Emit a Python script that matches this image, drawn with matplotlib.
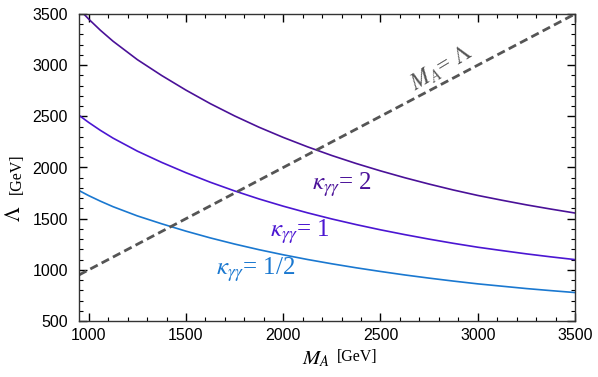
import matplotlib
matplotlib.use("Agg")
import matplotlib.pyplot as plt
from matplotlib.ticker import MultipleLocator

# values
m_a = [950, 1000, 1060, 1125, 1250, 1375, 1500, 1625, 1750, 1875, 2000, 2125,
       2250, 2375, 2500, 2625, 2750, 2875, 3000, 3125, 3250, 3375, 3500]
lam_k2 = [3549, 3450, 3341, 3234, 3054, 2899, 2756, 2624, 2504, 2394, 2294, 2202,
          2117, 2039, 1967, 1900, 1838, 1780, 1727, 1680, 1635, 1594, 1555]
lam_k1 = [2510, 2440, 2363, 2287, 2160, 2050, 1949, 1856, 1771, 1693, 1622, 1557,
          1497, 1442, 1391, 1344, 1300, 1259, 1221, 1188, 1156, 1127, 1100]
lam_khalf = [1775, 1725, 1671, 1617, 1527, 1450, 1378, 1312, 1252, 1197, 1147, 1101,
             1059, 1020, 984, 950, 919, 890, 863, 840, 817, 797, 778]
diag = [950, 3500]

plt.rcParams['mathtext.fontset'] = 'stix'
plt.rcParams['font.family'] = 'Liberation Sans'

W, H = 598, 377
fig = plt.figure(figsize=(W / 100, H / 100), dpi=100)
ax = fig.add_axes([79 / W, 1 - 321 / H, 496 / W, 307 / H])

c2 = '#4a1198'
c1 = '#4b16d2'
ch = '#1a78d0'
grey = '#555555'

ax.plot(m_a, lam_k2, color=c2, lw=1.2)
ax.plot(m_a, lam_k1, color=c1, lw=1.2)
ax.plot(m_a, lam_khalf, color=ch, lw=1.2)
ax.plot(diag, diag, color=grey, lw=2.0, dashes=(3, 1.6))

ax.set_xlim(950, 3500)
ax.set_ylim(500, 3500)
ax.xaxis.set_major_locator(MultipleLocator(500))
ax.xaxis.set_minor_locator(MultipleLocator(100))
ax.yaxis.set_major_locator(MultipleLocator(500))
ax.yaxis.set_minor_locator(MultipleLocator(100))
ax.tick_params(which='both', direction='in', top=True, right=True, labelsize=11.5)
ax.tick_params(axis='x', pad=5)
ax.tick_params(axis='y', pad=8)
ax.tick_params(which='major', length=6, width=1.0)
ax.tick_params(which='minor', length=3, width=0.8)
for s in ax.spines.values():
    s.set_color('#333333')
    s.set_linewidth(1.0)

# axis labels, big symbol + small unit
fig.text(316 / W, 1 - 359 / H, r'$M_A$', fontsize=15, ha='center', va='center')
fig.text(357 / W, 1 - 357 / H, '[GeV]', family='Liberation Serif', fontsize=11.5,
         ha='center', va='center')
fig.text(15 / W, 1 - 214 / H, r'$\Lambda$', fontsize=15, ha='center', va='center',
         rotation=90)
fig.text(17 / W, 1 - 174 / H, '[GeV]', family='Liberation Serif', fontsize=11.5,
         ha='center', va='center', rotation=90)

ax.text(2302, 1829, r'$\kappa_{\gamma\gamma}$= 2', color=c2, fontsize=18,
        family='Liberation Serif', ha='center', va='center')
ax.text(2086, 1370, r'$\kappa_{\gamma\gamma}$= 1', color=c1, fontsize=18,
        family='Liberation Serif', ha='center', va='center')
ax.text(1860, 998, r'$\kappa_{\gamma\gamma}$= 1/2', color=ch, fontsize=18,
        family='Liberation Serif', ha='center', va='center')
ax.text(2816, 2972, r'$M_A$= $\Lambda$', color=grey, fontsize=17,
        family='Liberation Serif', ha='center', va='center', rotation=31)

fig.savefig('out.png', dpi=100)
